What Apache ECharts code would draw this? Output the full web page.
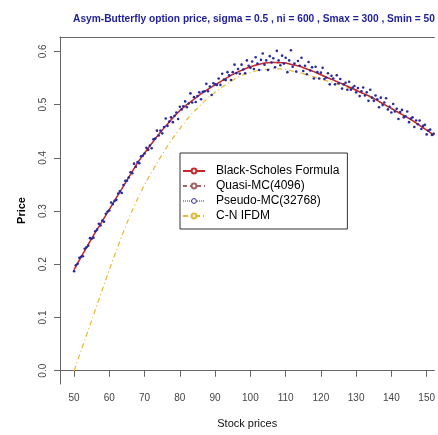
<!DOCTYPE html>
<html>
<head>
<meta charset="utf-8">
<script src="https://cdn.jsdelivr.net/npm/echarts@6/dist/echarts.min.js"></script>
<style>
  html, body { margin: 0; padding: 0; background: #fff; }
  #main { width: 438px; height: 435px; }
</style>
</head>
<body>
<div id="main"></div>
<script>
(function () {
    // stock price grid for the smooth curves (50..152, step 2)
    var gridPrices = [];
    for (var s = 50; s <= 152; s += 2) gridPrices.push(s);

    // Black-Scholes Formula
    var bsValues = [0.190, 0.214, 0.237, 0.260, 0.281, 0.303, 0.325, 0.347, 0.369, 0.391,
        0.409, 0.427, 0.444, 0.460, 0.475, 0.489, 0.500, 0.510, 0.520, 0.529,
        0.537, 0.545, 0.553, 0.560, 0.566, 0.571, 0.575, 0.578, 0.579, 0.579,
        0.578, 0.575, 0.572, 0.567, 0.562, 0.556, 0.550, 0.545, 0.539, 0.533,
        0.527, 0.521, 0.515, 0.508, 0.500, 0.493, 0.485, 0.478, 0.470, 0.461,
        0.452, 0.443];

    // Quasi-MC(4096)
    var qmcValues = [0.191, 0.213, 0.238, 0.259, 0.282, 0.302, 0.326, 0.346, 0.370, 0.390,
        0.410, 0.426, 0.445, 0.459, 0.476, 0.488, 0.501, 0.509, 0.521, 0.528,
        0.538, 0.544, 0.554, 0.559, 0.567, 0.570, 0.576, 0.577, 0.580, 0.578,
        0.579, 0.574, 0.573, 0.566, 0.563, 0.555, 0.551, 0.544, 0.540, 0.532,
        0.528, 0.520, 0.516, 0.507, 0.501, 0.492, 0.486, 0.477, 0.471, 0.460,
        0.453, 0.442];

    // C-N IFDM
    var cnValues = [0.000, 0.038, 0.076, 0.114, 0.152, 0.190, 0.226, 0.261, 0.294, 0.323,
        0.350, 0.373, 0.396, 0.417, 0.437, 0.455, 0.472, 0.487, 0.500, 0.513,
        0.523, 0.533, 0.542, 0.550, 0.556, 0.560, 0.564, 0.566, 0.567, 0.567,
        0.566, 0.563, 0.560, 0.556, 0.552, 0.548, 0.544, 0.540, 0.536, 0.531,
        0.526, 0.520, 0.514, 0.507, 0.500, 0.493, 0.485, 0.478, 0.470, 0.461,
        0.452, 0.443];

    // Pseudo-MC(32768), sampled every 0.5 from 50 to 152
    var mcPrices = [];
    for (var m = 50; m <= 152; m += 0.5) mcPrices.push(m);
    var pmcValues = [
        0.187, 0.198, 0.201, 0.212, 0.214, 0.215, 0.229, 0.232, 0.235, 0.249,
        0.248, 0.250, 0.262, 0.265, 0.276, 0.273, 0.282, 0.280, 0.295, 0.299,
        0.301, 0.316, 0.313, 0.319, 0.321, 0.333, 0.337, 0.334, 0.349, 0.357,
        0.357, 0.363, 0.373, 0.371, 0.389, 0.383, 0.392, 0.390, 0.403, 0.404,
        0.408, 0.419, 0.415, 0.423, 0.418, 0.435, 0.436, 0.451, 0.442, 0.451,
        0.446, 0.458, 0.474, 0.460, 0.468, 0.476, 0.467, 0.479, 0.485, 0.473,
        0.496, 0.491, 0.497, 0.506, 0.495, 0.502, 0.521, 0.504, 0.514, 0.505,
        0.516, 0.523, 0.510, 0.524, 0.525, 0.539, 0.525, 0.534, 0.518, 0.540,
        0.538, 0.537, 0.549, 0.537, 0.558, 0.547, 0.546, 0.561, 0.555, 0.546,
        0.561, 0.575, 0.559, 0.567, 0.558, 0.575, 0.566, 0.559, 0.583, 0.573,
        0.569, 0.581, 0.567, 0.589, 0.577, 0.565, 0.584, 0.596, 0.575, 0.583,
        0.565, 0.591, 0.579, 0.587, 0.570, 0.601, 0.583, 0.574, 0.592, 0.577,
        0.588, 0.561, 0.583, 0.602, 0.571, 0.577, 0.562, 0.582, 0.573, 0.588,
        0.563, 0.573, 0.557, 0.580, 0.564, 0.570, 0.549, 0.571, 0.561, 0.549,
        0.560, 0.569, 0.548, 0.551, 0.559, 0.538, 0.554, 0.549, 0.538, 0.555,
        0.540, 0.548, 0.530, 0.538, 0.541, 0.528, 0.543, 0.528, 0.532, 0.535,
        0.523, 0.531, 0.516, 0.525, 0.532, 0.517, 0.523, 0.507, 0.528, 0.513,
        0.507, 0.517, 0.510, 0.495, 0.513, 0.499, 0.504, 0.512, 0.491, 0.496,
        0.485, 0.501, 0.487, 0.492, 0.473, 0.486, 0.490, 0.476, 0.478, 0.487,
        0.467, 0.474, 0.476, 0.458, 0.470, 0.463, 0.470, 0.454, 0.460, 0.462,
        0.444, 0.451, 0.453, 0.443, 0.445];

    var xTicks = [50, 60, 70, 80, 90, 100, 110, 120, 130, 140, 150];
    var yTicks = [0, 0.1, 0.2, 0.3, 0.4, 0.5, 0.6];

    var zip = function (xs, ys) {
        var out = [];
        for (var i = 0; i < ys.length; i++) out.push([xs[i], ys[i]]);
        return out;
    };

    var font = 'Liberation Sans, Arial, sans-serif';
    var axisColor = '#666';
    var navy = '#2a2aa0';

    var chart = echarts.init(document.getElementById('main'));
    chart.setOption({
        animation: false,
        backgroundColor: '#fff',
        title: {
            text: 'Asym-Butterfly option price, sigma = 0.5 , ni = 600 , Smax = 300 , Smin = 50',
            left: 249,
            top: 9,
            textAlign: 'center',
            textStyle: { fontFamily: font, fontSize: 10.2, fontWeight: 'bold', color: '#1e1e9c' }
        },
        legend: {
            orient: 'vertical',
            left: 180,
            top: 153,
            padding: [12, 8, 7, 2],
            itemGap: 3,
            itemWidth: 22,
            itemHeight: 6,
            borderColor: '#333',
            borderWidth: 1,
            backgroundColor: '#fff',
            textStyle: { fontFamily: font, fontSize: 12, color: '#000', padding: [0, 0, 0, 6], lineHeight: 12 },
            data: [
                { name: 'Black-Scholes Formula' },
                { name: 'Quasi-MC(4096)' },
                {
                    name: 'Pseudo-MC(32768)',
                    itemStyle: { color: '#fff', borderColor: navy, borderWidth: 1 },
                    lineStyle: { width: 1, type: 'dotted', color: navy }
                },
                { name: 'C-N IFDM' }
            ]
        },
        grid: { left: 60, right: 0, top: 37, bottom: 51 },
        xAxis: [{
            type: 'value',
            min: 46,
            max: 152.2,
            name: 'Stock prices',
            nameLocation: 'middle',
            nameGap: 34,
            nameTextStyle: { fontFamily: font, fontSize: 11, color: '#111' },
            axisLine: { lineStyle: { color: axisColor } },
            axisTick: { length: 6, customValues: xTicks, lineStyle: { color: axisColor } },
            axisLabel: { customValues: xTicks, fontFamily: font, fontSize: 10, color: '#444', margin: 9 },
            splitLine: { show: false }
        }, {
            type: 'value',
            position: 'top',
            min: 46,
            max: 152.2,
            axisLine: { show: true, lineStyle: { color: axisColor } },
            axisTick: { show: false },
            axisLabel: { show: false },
            splitLine: { show: false }
        }],
        yAxis: {
            type: 'value',
            min: -0.025,
            max: 0.627,
            name: 'Price',
            nameLocation: 'middle',
            nameGap: 33,
            nameTextStyle: { fontFamily: font, fontSize: 11, fontWeight: 'bold', color: '#000' },
            axisLine: { show: true, lineStyle: { color: axisColor } },
            axisTick: { show: true, length: 6, customValues: yTicks, lineStyle: { color: axisColor } },
            axisLabel: {
                customValues: yTicks,
                rotate: 90,
                margin: 12,
                fontFamily: font,
                fontSize: 10,
                color: '#444',
                formatter: function (v) { return v.toFixed(1); }
            },
            splitLine: { show: false }
        },
        series: [{
            name: 'C-N IFDM',
            type: 'line',
            data: zip(gridPrices, cnValues),
            symbol: 'emptyCircle',
            symbolSize: 5,
            showSymbol: false,
            color: '#e8b830',
            lineStyle: { width: 1.2, type: [5, 3, 1, 3], color: '#e8b830' },
            z: 2
        }, {
            name: 'Quasi-MC(4096)',
            type: 'line',
            data: zip(gridPrices, qmcValues),
            symbol: 'emptyCircle',
            symbolSize: 5,
            showSymbol: false,
            color: '#a06464',
            lineStyle: { width: 1, type: [4, 3], color: '#a06464' },
            z: 3
        }, {
            name: 'Black-Scholes Formula',
            type: 'line',
            data: zip(gridPrices, bsValues),
            symbol: 'emptyCircle',
            symbolSize: 5,
            showSymbol: false,
            color: '#c8282d',
            lineStyle: { width: 1.5, color: '#c8282d' },
            z: 4
        }, {
            name: 'Pseudo-MC(32768)',
            type: 'line',
            data: zip(mcPrices, pmcValues),
            symbol: 'circle',
            symbolSize: 2.6,
            showSymbol: true,
            showAllSymbol: true,
            color: navy,
            itemStyle: { color: navy },
            lineStyle: { width: 0, color: navy },
            z: 5
        }]
    });
})();
</script>
</body>
</html>
